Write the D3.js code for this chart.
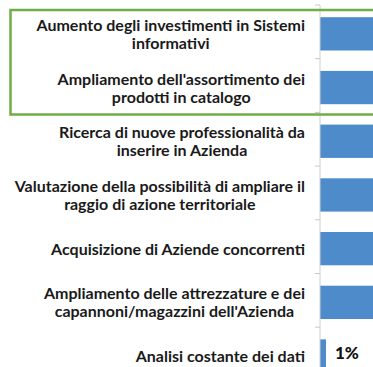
<!DOCTYPE html>
<html><head><meta charset="utf-8">
<script src="https://cdn.jsdelivr.net/npm/d3@7"></script>
<style>html,body{margin:0;padding:0;background:#fff;overflow:hidden}</style>
</head><body>
<svg id="c" width="373" height="367"></svg>
<script>
const categories = [
  ["Aumento degli investimenti in Sistemi", "informativi"],
  ["Ampliamento dell'assortimento dei", "prodotti in catalogo"],
  ["Ricerca di nuove professionalità da", "inserire in Azienda"],
  ["Valutazione della possibilità di ampliare il", "raggio di azione territoriale"],
  ["Acquisizione di Aziende concorrenti"],
  ["Ampliamento delle attrezzature e dei", "capannoni/magazzini dell'Azienda"],
  ["Analisi costante dei dati"]
];
const values = [45, 42, 38, 33, 30, 27, 1];
const valueLabels = ["45%", "42%", "38%", "33%", "30%", "27%", "1%"];

const W = 373;
const svg = d3.select("#c");
const keys = categories.map((c, i) => i);
const y = d3.scaleBand().domain(keys).range([5, 5 + 7 * 53.7]).paddingInner(0.38).paddingOuter(0.19);
const x = d3.scaleLinear().domain([0, 100]).range([320, 920]);

// bars
svg.append("g").selectAll("rect").data(values).join("rect")
  .attr("x", x(0)).attr("y", (d, i) => y(i) + 2)
  .attr("width", d => x(d) - x(0)).attr("height", y.bandwidth())
  .attr("fill", "#4d8bcb");

// value labels (only those that fall inside the visible crop)
const vis = values.map((d, i) => ({d, i})).filter(o => x(o.d) + 40 < W);
svg.append("g").selectAll("text").data(vis).join("text")
  .attr("x", o => x(o.d) + 9).attr("y", o => y(o.i) + 2 + y.bandwidth() / 2 + 3)
  .attr("font-family", "Lato").attr("font-weight", 900).attr("font-size", 17)
  .attr("fill", "#111").text(o => valueLabels[o.i]);

// axis
const axG = svg.append("g").attr("transform", `translate(${x(0)},0)`);
axG.append("line").attr("x1", 0).attr("x2", 0).attr("y1", 5).attr("y2", 367).attr("stroke", "#d0d0d0");
const step = y.step();
const bounds = d3.range(8).map(i => 5 + i * step);
axG.selectAll("line.t").data(bounds).join("line").attr("class", "t")
  .attr("x1", -5).attr("x2", 0).attr("y1", d => d).attr("y2", d => d).attr("stroke", "#c8c8c8");

// category labels
const lg = svg.append("g");
categories.forEach((lines, i) => {
  const cy = y(i) + y.bandwidth() / 2 + 3;
  const t = lg.append("text").attr("font-family", "Lato").attr("font-weight", 700)
    .attr("font-size", 16).attr("fill", "#1a1a1a").attr("text-anchor", "middle");
  const n = lines.length;
  lines.forEach((l, j) => {
    t.append("tspan").attr("x", 0).attr("y", cy + (j - (n - 1) / 2) * 18 + 5).text(l);
  });
  let maxW = 0;
  t.selectAll("tspan").each(function() { maxW = Math.max(maxW, this.getComputedTextLength()); });
  t.selectAll("tspan").attr("x", 305 - maxW / 2);
});

// highlight box
svg.append("rect").attr("x", 10.5).attr("y", 10).attr("width", 420).attr("height", 104.5)
  .attr("fill", "none").attr("stroke", "#70ad47").attr("stroke-width", 2.5);
</script>
</body></html>
